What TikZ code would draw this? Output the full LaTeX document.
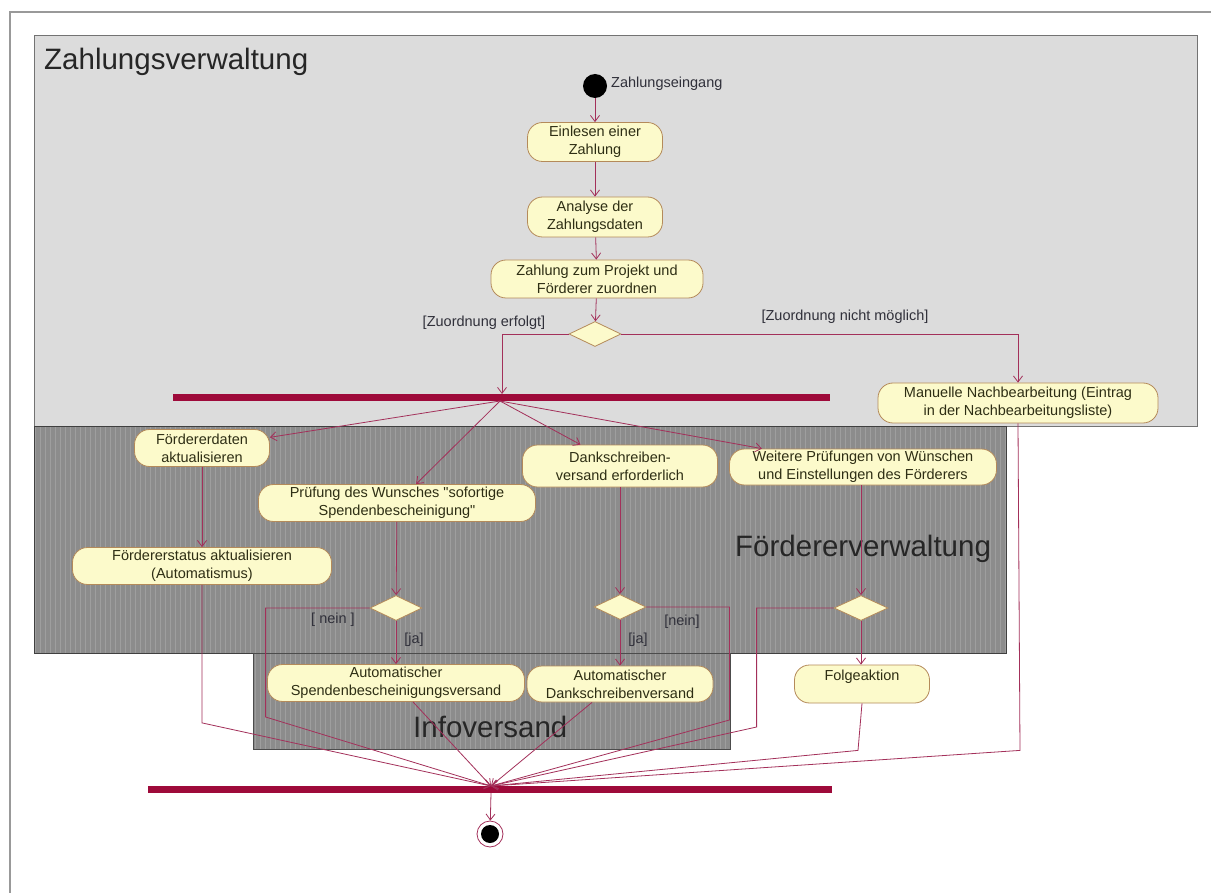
\documentclass[tikz,border=0pt]{standalone}
\usepackage{fontspec}
\setmainfont{Liberation Sans}
\usetikzlibrary{shapes.geometric,arrows.meta}
\definecolor{lane}{HTML}{DCDCDC}
\definecolor{darklane}{HTML}{8C8C8C}
\definecolor{gridc}{HTML}{9E9E9E}
\definecolor{nodefill}{HTML}{FCFACB}
\definecolor{nodeline}{HTML}{B48A5A}
\definecolor{edgec}{HTML}{A3305A}
\definecolor{barc}{HTML}{9E0A3A}
\definecolor{ntext}{HTML}{2E2E14}
\definecolor{gtext}{HTML}{30303A}
\begin{document}
\begin{tikzpicture}[x=1pt,y=-1pt,
 act/.style={draw=nodeline, fill=nodefill, line width=0.8pt, rounded corners=15pt, align=center, inner sep=0pt, font=\fontsize{14.5}{18}\selectfont, text=ntext},
 dec/.style={diamond, draw=nodeline, fill=nodefill, line width=0.8pt, inner sep=0pt, minimum width=52pt, minimum height=25pt},
 flow/.style={draw=edgec, line width=0.8pt, -{Straight Barb[length=6pt,width=9pt]}},
 guard/.style={font=\fontsize{14.5}{16}\selectfont, text=gtext, inner sep=0pt},
 lanelabel/.style={font=\fontsize{29.5}{32}\selectfont, text=black!85, inner sep=0pt},
 syncbar/.style={fill=barc, inner sep=0pt, minimum height=7pt},
]
\useasboundingbox (0,0) rectangle (1211,893);
\fill[white] (0,0) rectangle (1211,893);
\draw[black!40, line width=1.5pt] (10,893) -- (10,12) -- (1211,12);

% swimlanes
\fill[lane] (34,36) rectangle (1197,427);
\draw[black!55, line width=1pt] (34,36) rectangle (1197,427);
\fill[darklane] (34,427) rectangle (1006,653);
\draw[gridc, line width=0.4pt, step=5] (34,427) grid (1006,653);
\draw[black!75, line width=1pt] (34,427) rectangle (1006,653);
\fill[darklane] (253,653) rectangle (730,749);
\draw[gridc, line width=0.4pt, step=5] (253,653) grid (730,749);
\draw[black!70, line width=1pt] (253,653) rectangle (730,749);

\node[lanelabel, anchor=base west] (lz) at (44,70) {Zahlungsverwaltung};
\node[lanelabel, anchor=base west] (lf) at (735,556) {Fördererverwaltung};
\node[lanelabel, anchor=base west] (li) at (413,737) {Infoversand};

% nodes
\node[circle, fill=black, minimum size=24pt, inner sep=0pt] (st) at (595,86) {};
\node[guard, anchor=west] (stl) at (611,84) {Zahlungseingang};
\node[act, minimum width=135pt, minimum height=39pt] (n1) at (595,142) {Einlesen einer\\Zahlung};
\node[act, minimum width=135pt, minimum height=40pt] (n2) at (595,217) {Analyse der\\Zahlungsdaten};
\node[act, minimum width=212pt, minimum height=38pt] (n3) at (597,279) {Zahlung zum Projekt und\\Förderer zuordnen};
\node[dec] (d1) at (595,334) {};
\node[guard] (g1) at (484,323) {[Zuordnung erfolgt]};
\node[guard] (g2) at (845,317) {[Zuordnung nicht möglich]};
\node[act, minimum width=280pt, minimum height=40pt] (mn) at (1018,403) {Manuelle Nachbearbeitung (Eintrag\\in der Nachbearbeitungsliste)};

\node[syncbar, minimum width=657pt] (fork) at (501.5,398) {};
\coordinate (fk) at (500,401);
\coordinate (fin) at (502,394);

\node[act, minimum width=135pt, minimum height=37pt] (fd) at (202,448) {Fördererdaten\\aktualisieren};
\node[act, minimum width=277pt, minimum height=37pt] (pr) at (397,503) {Prüfung des Wunsches \textquotedbl sofortige\\Spendenbescheinigung\textquotedbl};
\node[act, minimum width=195pt, minimum height=42pt] (dk) at (620,466) {Dankschreiben-\\versand erforderlich};
\node[act, minimum width=267pt, minimum height=36pt] (wt) at (863,467) {Weitere Prüfungen von Wünschen\\und Einstellungen des Förderers};
\node[act, minimum width=259pt, minimum height=37pt] (fs) at (202,566) {Fördererstatus aktualisieren\\(Automatismus)};

\node[dec] (d2) at (396,608) {};
\node[guard] (g3) at (333,620) {[ nein ]};
\node[guard] (g4) at (414,640) {[ja]};
\node[dec] (d3) at (620,607) {};
\node[guard] (g5) at (682,622) {[nein]};
\node[guard] (g6) at (638,640) {[ja]};
\node[dec, minimum width=54pt] (d4) at (861,608) {};

\node[act, minimum width=257pt, minimum height=37pt] (asv) at (396,683) {Automatischer\\Spendenbescheinigungsversand};
\node[act, minimum width=186pt, minimum height=36pt] (adv) at (620,684) {Automatischer\\Dankschreibenversand};
\node[act, minimum width=135pt, minimum height=38pt] (fa) at (862,684) {Folgeaktion\\\mbox{}};

\node[syncbar, minimum width=684pt] (join) at (490,789.5) {};
\coordinate (jn) at (491,786);
\coordinate (jb) at (491,793);
\node[circle, draw=edgec, fill=white, line width=0.8pt, minimum size=26pt, inner sep=0pt] (en) at (490,834) {};
\node[circle, fill=black, minimum size=18pt, inner sep=0pt] (en2) at (490,834) {};

% connectors
\draw[flow] (st) -- (n1);
\draw[flow] (n1) -- (n2);
\draw[flow] (n2) -- (n3);
\draw[flow] (n3) -- (d1);
\draw[flow] (d1.west) -- (d1.west -| fin) -- (fin);
\draw[flow] (d1.east) -- (d1.east -| mn.north) -- (mn.north);
\draw[flow] (fk) -- (fd);
\draw[flow] (fk) -- (pr);
\draw[flow] (fk) -- (dk);
\draw[flow] (fk) -- (wt);
\draw[flow] (fd) -- (fs);
\draw[flow] (pr) -- (d2);
\draw[flow] (d2) -- (asv);
\draw[flow] (dk) -- (d3);
\draw[flow] (d3) -- (adv);
\draw[flow] (wt.south -| d4) -- (d4);
\draw[flow] (d4) -- (fa.north -| d4);

\draw[flow] (fs.south) -- ++(0,138) -- (jn);
\draw[flow] (d2.west) -- ++(-104,0) -- ++(0,109) -- (jn);
\draw[flow] ([xshift=17pt]asv.south) -- (jn);
\draw[flow] ([xshift=-28pt]adv.south) -- (jn);
\draw[flow] (d3.east) -- ++(83,0) -- ++(0,113) -- (jn);
\draw[flow] (d4.west) -- ++(-77,0) -- ++(0,119) -- (jn);
\draw[flow] (fa.south) -- ++(-4,47) -- (jn);
\draw[flow] (mn.south) -- ++(2,327) -- (jn);
\draw[flow] (jb) -- (en);
\end{tikzpicture}
\end{document}
